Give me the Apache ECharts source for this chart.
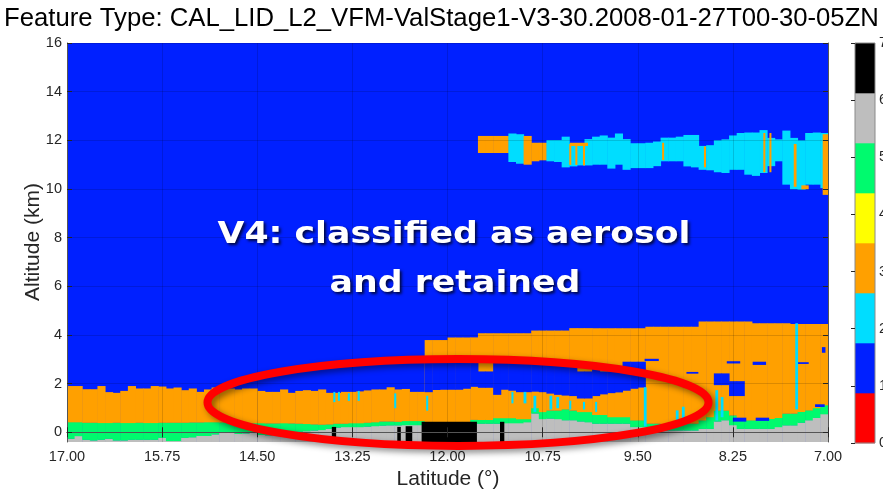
<!DOCTYPE html>
<html><head><meta charset="utf-8">
<script src="https://cdn.jsdelivr.net/npm/echarts@6/dist/echarts.min.js"></script>
<style>html,body{margin:0;padding:0;background:#fff}#c{width:883px;height:491px}</style>
</head><body><div id="c"></div>
<script>
// ---------- DATA ----------
// latitude columns (left edge, degrees), 0.1 deg wide, 17.0 -> 7.1
const latStep = 0.1;
const latStart = [];
for (let k = 0; k < 100; k++) latStart.push(+(17 - k * latStep).toFixed(2));

// top of subsurface (gray, class 6) per column, km
const subsurfaceTop = [
 -0.26,-0.15,-0.30,-0.33,-0.30,-0.26,-0.33,-0.33,-0.30,-0.30,
 -0.30,-0.30,-0.22,-0.35,-0.35,-0.22,-0.20,-0.14,-0.14,-0.08,
 -0.02, 0.01,-0.06,-0.04, 0.00,-0.10,-0.12,-0.10, 0.00, 0.00,
  0.03, 0.05, 0.08, 0.10, 0.15, 0.20, 0.22, 0.22, 0.22, 0.24,
  0.26, 0.28, 0.29, 0.29, 0.30, 0.30, 0.30, 0.36, 0.36, 0.36,
  0.36, 0.36, 0.36, 0.36, 0.36, 0.36, 0.36, 0.38, 0.38, 0.38,
  0.42, 0.78, 0.55, 0.57, 0.55, 0.50, 0.50, 0.45, 0.42, 0.36,
  0.36, 0.36, 0.36, 0.36, 0.22, 0.22, 0.22, 0.22, 0.08, 0.08,
  0.08, 0.08, 0.08, 0.15, 0.15, 0.45, 0.50, 0.30, 0.15, 0.15,
  0.15, 0.15, 0.15, 0.22, 0.29, 0.29, 0.40, 0.50, 0.60, 0.75];

// top of surface (green, class 5) per column, km
const surfaceTop = [
  0.42, 0.42, 0.40, 0.40, 0.39, 0.39, 0.40, 0.39, 0.39, 0.40,
  0.39, 0.39, 0.40, 0.40, 0.40, 0.40, 0.41, 0.41, 0.42, 0.42,
  0.41, 0.42, 0.40, 0.38, 0.38, 0.38, 0.37, 0.37, 0.38, 0.37,
  0.36, 0.35, 0.33, 0.32, 0.33, 0.36, 0.36, 0.38, 0.38, 0.40,
  0.42, 0.45, 0.45, 0.44, 0.47, 0.47, 0.47, 0.43, 0.43, 0.43,
  0.43, 0.43, 0.43, 0.52, 0.52, 0.52, 0.59, 0.59, 0.59, 0.55,
  0.55, 1.00, 0.84, 0.90, 0.90, 0.95, 0.90, 0.84, 0.84, 0.72,
  0.72, 0.63, 0.63, 0.63, 0.50, 0.50, 0.36, 0.36, 0.30, 0.30,
  0.36, 0.36, 0.36, 0.50, 0.63, 0.90, 0.90, 0.70, 0.60, 0.50,
  0.50, 0.50, 0.56, 0.60, 0.77, 0.77, 0.85, 0.91, 1.00, 1.12];

// top of aerosol (orange, class 3) per column, km
const aerosolTop = [
  1.90, 1.90, 1.77, 1.77, 1.90, 1.65, 1.62, 1.70, 1.90, 1.80,
  1.80, 1.90, 1.88, 1.80, 1.84, 1.73, 1.80, 1.66, 1.76, 1.84,
  1.84, 1.80, 1.76, 1.80, 1.80, 1.70, 1.66, 1.66, 1.76, 1.62,
  1.70, 1.73, 1.70, 1.76, 1.62, 1.62, 1.66, 1.66, 1.68, 1.72,
  1.76, 1.76, 1.85, 1.76, 1.78, 1.66, 1.66, 3.79, 3.79, 3.79,
  3.90, 3.90, 3.90, 3.90, 4.07, 4.07, 4.07, 4.07, 4.07, 4.07,
  4.07, 4.18, 4.18, 4.18, 4.18, 4.18, 4.28, 4.28, 4.28, 4.28,
  4.28, 4.28, 4.28, 4.28, 4.28, 4.28, 4.34, 4.34, 4.34, 4.34,
  4.34, 4.34, 4.34, 4.55, 4.55, 4.55, 4.55, 4.55, 4.55, 4.55,
  4.48, 4.48, 4.48, 4.48, 4.48, 4.45, 4.45, 4.45, 4.45, 4.45];

// clear-air gap inside the aerosol (class 1): bottom / top per column, null = none
const clearGapBottom = [
  null,null,null,null,null,null,null,null,null,null,
  null,null,null,null,null,null,null,null,null,null,
  null,null,null,null,null,null,null,null,null,null,
  null,null,null,null,null,null,null,null,null,null,
  null,null,null,null,null,null,null,1.66,1.75,1.76,
  1.76,1.76,1.80,1.88,1.84,1.84,1.55,1.76,1.72,1.66,
  1.66,1.68,1.66,1.60,1.55,1.52,1.50,1.40,1.40,1.50,
  1.57,1.62,1.65,1.72,1.80,1.85,null,null,null,null,
  null,null,null,null,null,1.95,1.95,1.50,1.50,null,
  null,null,null,null,null,null,null,null,null,null];
const clearGapTop = [
  null,null,null,null,null,null,null,null,null,null,
  null,null,null,null,null,null,null,null,null,null,
  null,null,null,null,null,null,null,null,null,null,
  null,null,null,null,null,null,null,null,null,null,
  null,null,null,null,null,null,null,3.05,3.05,3.05,
  3.05,3.05,3.05,3.00,2.50,2.50,2.85,2.85,2.85,2.85,
  2.85,2.85,2.85,2.85,2.85,2.80,2.80,2.50,2.50,2.70,
  2.50,2.50,2.70,2.90,2.90,2.90,null,null,null,null,
  null,null,null,null,null,2.42,2.42,2.10,2.10,null,
  null,null,null,null,null,null,null,null,null,null];

// small clear-air slivers [latFrom, latTo, bottom, top]
const clearSlivers = [
  [8.25, 8.08, 0.45, 0.60], [7.95, 7.78, 0.48, 0.60], [7.17, 7.05, 1.05, 1.15],
  [9.41, 9.23, 2.94, 3.02], [8.86, 8.71, 2.42, 2.48], [8.33, 8.16, 2.84, 2.92],
  [7.99, 7.82, 2.78, 2.90], [7.41, 7.26, 2.82, 2.88], [7.08, 7.04, 3.28, 3.50]];

// no-signal (black, class 7) [latFrom, latTo, top]
const noSignal = [
  [13.52, 13.47, 0.22], [12.66, 12.62, 0.22], [12.55, 12.47, 0.25],
  [12.34, 11.62, 0.43], [11.31, 11.26, 0.43]];

// cloud spikes in the boundary layer (cyan, class 2) [latFrom, latTo, bottom, top]
const cloudSpikes = [
  [13.50, 13.48, 1.25, 1.66], [13.44, 13.42, 1.30, 1.66], [13.31, 13.29, 1.30, 1.60],
  [13.18, 13.16, 1.30, 1.70], [12.70, 12.68, 1.00, 1.60], [12.28, 12.26, 0.90, 1.50],
  [11.16, 11.14, 1.20, 1.66], [11.00, 10.97, 1.20, 1.66], [10.87, 10.84, 0.85, 1.50],
  [10.66, 10.63, 0.95, 1.50], [10.57, 10.54, 1.00, 1.45], [10.40, 10.38, 0.95, 1.30],
  [10.22, 10.20, 0.95, 1.25], [10.06, 10.04, 0.85, 1.25], [9.42, 9.39, 0.25, 1.85],
  [9.00, 8.97, 0.42, 0.90], [8.92, 8.89, 0.50, 1.05], [8.48, 8.45, 0.50, 1.73],
  [8.41, 8.38, 0.63, 1.45], [7.43, 7.40, 0.95, 4.48]];

// upper layer (~10-12.5 km), columns 54..99 of latStart
const upperFirstColumn = 54;
const upperType = [ // 2 = cloud (cyan), 3 = aerosol (orange)
  3,3,3,3,2,2,3,3,3,2, 2,2,2,2,2,2,2,2,2,2,
  2,2,2,2,2,2,2,2,2,2, 2,2,2,2,2,2,2,2,2,2,
  2,2,2,2,2,2];
const upperTop = [
  12.18,12.18,12.18,12.18,12.28,12.25,12.18,11.90,11.90,12.01,
  12.01,12.15,11.88,11.88,12.05,12.15,12.20,12.11,12.28,12.05,
  11.88,11.88,11.90,11.95,12.11,12.11,12.15,12.22,12.22,11.77,
  11.80,12.00,12.04,12.20,12.30,12.32,12.32,12.42,12.10,12.04,
  12.40,12.10,12.00,12.30,12.32,12.30];
const upperBottom = [
  11.49,11.49,11.49,11.49,11.12,11.05,11.01,11.15,11.19,11.15,
  11.12,10.90,10.94,10.98,10.98,11.01,11.01,10.85,11.01,10.80,
  10.87,10.87,10.87,10.95,11.15,11.15,11.15,10.94,10.90,10.80,
  10.78,10.70,10.67,10.80,10.80,10.60,10.55,10.67,10.95,11.15,
  10.19,10.00, 9.98,10.19,10.19,10.05];

// aerosol strips inside the upper cloud (orange) [latFrom, latTo, bottom, top]
const upperAerosolStrips = [
  [10.40, 10.38, 11.00, 11.85], [10.32, 10.30, 11.00, 11.85], [10.22, 10.20, 10.98, 11.85],
  [10.39, 10.16, 11.78, 11.90], [9.18, 9.16, 11.20, 11.90], [8.63, 8.61, 10.90, 11.75],
  [7.85, 7.83, 10.70, 12.30], [7.77, 7.75, 10.70, 12.30], [7.45, 7.42, 10.10, 11.85],
  [7.35, 7.26, 10.00, 10.15], [7.07, 7.00, 9.77, 12.25]];

// feature type colours, index = class 0..7
const featureColors = ['#ff0000', '#0020ff', '#00ddff', '#ffa000', '#ffff00', '#00fa6e', '#bebebe', '#000000'];
const colorbarTicks = [0, 1, 2, 3, 4, 5, 6, 7];
const xTicks = [17.00, 15.75, 14.50, 13.25, 12.00, 10.75, 9.50, 8.25, 7.00];
const yTicks = [0, 2, 4, 6, 8, 10, 12, 14, 16];
const altMin = -0.4, altMax = 16;

const titleText = 'Feature Type: CAL_LID_L2_VFM-ValStage1-V3-30.2008-01-27T00-30-05ZN';
const noteLines = ['V4: classified as aerosol', 'and retained'];
// annotation ellipse extent in data units: [lat left, lat right], [alt top, alt bottom]
const ellipseLat = [15.154, 8.57];
const ellipseAlt = [3.01, -0.56];

// ---------- BUILD CELLS ----------
const cells = [];
for (let k = 0; k < latStart.length; k++) {
  const a = latStart[k], b = +(latStart[k] - latStep).toFixed(2);
  cells.push([a, b, altMin, subsurfaceTop[k], 6]);
  cells.push([a, b, subsurfaceTop[k], surfaceTop[k], 5]);
  cells.push([a, b, surfaceTop[k], aerosolTop[k], 3]);
}
for (let k = 0; k < latStart.length; k++) {
  if (clearGapBottom[k] != null) {
    cells.push([latStart[k], +(latStart[k] - latStep).toFixed(2), clearGapBottom[k], clearGapTop[k], 1]);
  }
}
clearSlivers.forEach(s => cells.push([s[0], s[1], s[2], s[3], 1]));
noSignal.forEach(s => cells.push([s[0], s[1], altMin, s[2], 7]));
cloudSpikes.forEach(s => cells.push([s[0], s[1], s[2], s[3], 2]));
for (let i = 0; i < upperType.length; i++) {
  const k = upperFirstColumn + i;
  cells.push([latStart[k], +(latStart[k] - latStep).toFixed(2), upperBottom[i], upperTop[i], upperType[i]]);
}
upperAerosolStrips.forEach(s => cells.push([s[0], s[1], s[2], s[3], 3]));

const colorbarCells = featureColors.map((c, i) => [i * 7 / 8, (i + 1) * 7 / 8, i]);

// ---------- CHART ----------
const chart = echarts.init(document.getElementById('c'));
const FONT = 'Liberation Sans, Arial, sans-serif';
const TXT = '#262626';

function renderCell(params, api) {
  const p = api.coord([api.value(0), api.value(3)]);
  const q = api.coord([api.value(1), api.value(2)]);
  return {
    type: 'rect',
    shape: { x: Math.min(p[0], q[0]), y: Math.min(p[1], q[1]),
             width: Math.abs(q[0] - p[0]) + 0.5, height: Math.abs(q[1] - p[1]) + 0.3 },
    style: { fill: featureColors[api.value(4)] }
  };
}
function renderBand(params, api) {
  const p = api.coord([0, api.value(1)]);
  const q = api.coord([1, api.value(0)]);
  return {
    type: 'rect',
    shape: { x: p[0], y: p[1], width: q[0] - p[0], height: q[1] - p[1] + 0.3 },
    style: { fill: featureColors[api.value(2)] }
  };
}
function renderFrame(params, api) {
  const p = api.coord([0, 7]);
  const q = api.coord([1, 0]);
  return {
    type: 'rect',
    shape: { x: p[0], y: p[1], width: q[0] - p[0], height: q[1] - p[1] },
    style: { fill: 'none', stroke: '#8a8a8a', lineWidth: 1 }
  };
}

const mainX = (pos, labels) => ({
  type: 'value', gridIndex: 0, position: pos, min: 7, max: 17, inverse: true, z: 10,
  axisLine: { show: true, lineStyle: { color: '#555', width: 1 } },
  axisTick: { show: true, inside: true, length: 5, customValues: xTicks, lineStyle: { color: TXT } },
  axisLabel: { show: labels, customValues: xTicks, formatter: v => v.toFixed(2),
               fontSize: 14.5, color: TXT, fontFamily: FONT, margin: 7 },
  splitLine: { show: labels, lineStyle: { color: 'rgba(0,0,0,0.14)', width: 1 } }
});
const mainY = (pos, labels) => ({
  type: 'value', gridIndex: 0, position: pos, min: altMin, max: altMax, z: 10,
  axisLine: { show: true, lineStyle: { color: '#555', width: 1 } },
  axisTick: { show: true, inside: true, length: 5, customValues: yTicks, lineStyle: { color: TXT } },
  axisLabel: { show: labels, customValues: yTicks, fontSize: 14.5, color: TXT, fontFamily: FONT, margin: 5 },
  splitLine: { show: labels, lineStyle: { color: 'rgba(0,0,0,0.14)', width: 1 } }
});

chart.setOption({
  animation: false,
  backgroundColor: '#ffffff',
  grid: [
    { left: 67, top: 43, width: 761, height: 399, show: true, backgroundColor: featureColors[1], borderWidth: 0,
      outerBoundsMode: 'none', containLabel: false },
    { left: 855, top: 43, width: 20, height: 400, show: false, outerBoundsMode: 'none', containLabel: false }
  ],
  xAxis: [
    mainX('bottom', true),
    mainX('top', false),
    { type: 'value', gridIndex: 1, min: 0, max: 1, show: false }
  ],
  yAxis: [
    mainY('left', true),
    mainY('right', false),
    { type: 'value', gridIndex: 1, position: 'right', min: 0, max: 7, interval: 1, z: 10,
      axisLine: { show: false },
      axisTick: { show: true, inside: true, length: 4, lineStyle: { color: TXT } },
      axisLabel: { fontSize: 14.5, color: TXT, fontFamily: FONT, margin: 4 },
      splitLine: { show: false } }
  ],
  series: [
    { type: 'custom', name: 'features', xAxisIndex: 0, yAxisIndex: 0, clip: true,
      renderItem: renderCell, encode: { x: [0, 1], y: [2, 3] }, data: cells, silent: true },
    { type: 'custom', name: 'colorbar', xAxisIndex: 2, yAxisIndex: 2,
      renderItem: renderBand, encode: { x: [], y: [0, 1] }, data: colorbarCells, silent: true },
    { type: 'custom', name: 'colorbarFrame', xAxisIndex: 2, yAxisIndex: 2, z: 5,
      renderItem: renderFrame, data: [[0]], silent: true }
  ]
});

const e1 = chart.convertToPixel({ gridIndex: 0 }, [ellipseLat[0], ellipseAlt[0]]);
const e2 = chart.convertToPixel({ gridIndex: 0 }, [ellipseLat[1], ellipseAlt[1]]);

const textShadow = { textShadowColor: 'rgba(0,0,0,0.75)', textShadowBlur: 3, textShadowOffsetX: 2, textShadowOffsetY: 2 };
chart.setOption({
  graphic: [
    { type: 'text', x: 441.5, y: 19, z: 100,
      style: { text: titleText, textAlign: 'center', textVerticalAlign: 'middle',
               fontSize: 25.7, fontFamily: FONT, fill: '#000' } },
    { type: 'text', x: 448, y: 479, z: 100,
      style: { text: 'Latitude (°)', textAlign: 'center', textVerticalAlign: 'middle',
               fontSize: 21, fontFamily: FONT, fill: TXT } },
    { type: 'text', x: 33, y: 242, rotation: Math.PI / 2, z: 100,
      style: { text: 'Altitude (km)', textAlign: 'center', textVerticalAlign: 'middle',
               fontSize: 21, fontFamily: FONT, fill: TXT } },
    { type: 'text', x: 454, y: 235, scaleX: 1.12, z: 100,
      style: Object.assign({ text: noteLines[0], textAlign: 'center', textVerticalAlign: 'middle',
               fontSize: 31, fontWeight: 'bold', fontFamily: 'DejaVu Sans', fill: '#ffffff' }, textShadow) },
    { type: 'text', x: 455, y: 284, scaleX: 1.12, z: 100,
      style: Object.assign({ text: noteLines[1], textAlign: 'center', textVerticalAlign: 'middle',
               fontSize: 31, fontWeight: 'bold', fontFamily: 'DejaVu Sans', fill: '#ffffff' }, textShadow) },
    { type: 'ellipse', z: 100,
      shape: { cx: (e1[0] + e2[0]) / 2, cy: (e1[1] + e2[1]) / 2,
               rx: Math.abs(e2[0] - e1[0]) / 2, ry: Math.abs(e2[1] - e1[1]) / 2 },
      style: { fill: 'none', stroke: '#ff0000', lineWidth: 8,
               shadowBlur: 6, shadowColor: 'rgba(0,0,0,0.45)', shadowOffsetX: 3, shadowOffsetY: 3 } }
  ]
});
</script>
</body></html>
